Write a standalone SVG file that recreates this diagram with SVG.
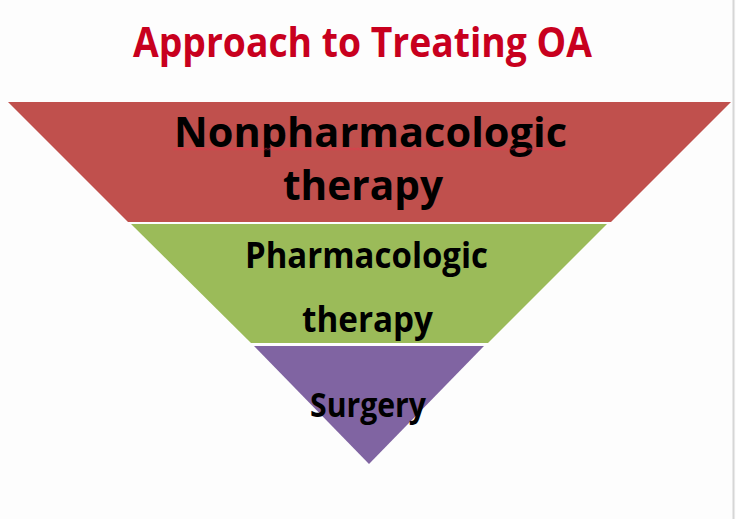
<svg xmlns="http://www.w3.org/2000/svg" width="736" height="519" viewBox="0 0 736 519">
  <style>
    .t { font-family: "Open Sans", "Liberation Sans", sans-serif; font-weight: bold; fill: #000; }
    .title { font-family: "Open Sans", "Liberation Sans", sans-serif; font-weight: bold; fill: #C8001E; }
  </style>
  <defs>
    <pattern id="wave" x="0" y="147.5" width="4" height="3" patternUnits="userSpaceOnUse">
      <polyline points="0,2.5 2,0.5 4,2.5" fill="none" stroke="#F0304A" stroke-width="1"/>
    </pattern>
  </defs>
  <rect x="0" y="0" width="736" height="519" fill="#FDFDFD"/>
  <rect x="732.5" y="0" width="2" height="519" fill="#D6D6D6"/>

  <g id="title">
    <text class="title" x="133" y="57" font-size="41" textLength="459" lengthAdjust="spacingAndGlyphs">Approach to Treating OA</text>
  </g>

  <g id="nonpharmacologic">
    <polygon points="8,102 731,102 611,222 128,222" fill="#C0504D"/>
    <text class="t" x="174" y="147" font-size="41" textLength="393" lengthAdjust="spacingAndGlyphs">Nonpharmacologic</text>
    <rect x="173" y="147.5" width="395" height="3" fill="url(#wave)"/>
    <text class="t" x="283" y="200" font-size="41" textLength="160" lengthAdjust="spacingAndGlyphs">therapy</text>
  </g>

  <g id="pharmacologic">
    <polygon points="131,224 607,224 488,343 251,343" fill="#9BBB59"/>
    <text class="t" x="245" y="268" font-size="35" textLength="243" lengthAdjust="spacingAndGlyphs">Pharmacologic</text>
    <text class="t" x="302" y="332" font-size="35" textLength="131" lengthAdjust="spacingAndGlyphs">therapy</text>
  </g>

  <g id="surgery">
    <polygon points="254,346 484,346 369,464" fill="#8064A2"/>
    <text class="t" x="310" y="417" font-size="34" textLength="116" lengthAdjust="spacingAndGlyphs">Surgery</text>
  </g>

  <g id="connectors"/>
</svg>
